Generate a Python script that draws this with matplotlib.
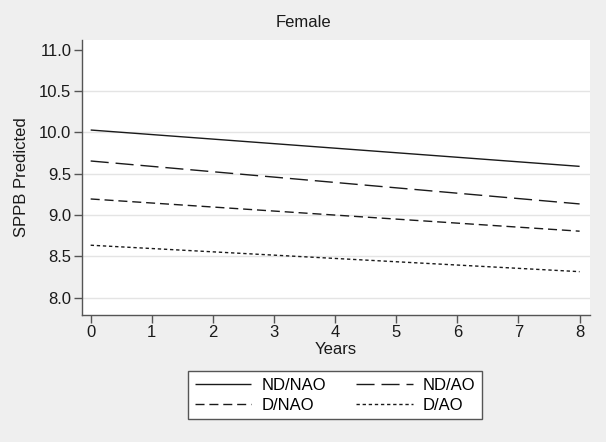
import numpy as np
import matplotlib
matplotlib.use("Agg")
import matplotlib.pyplot as plt

plt.rcParams['font.family'] = ['Liberation Sans', 'DejaVu Sans']

# predicted SPPB at start and end of follow-up
years = [0, 8]
groups = ["ND/NAO", "ND/AO", "D/NAO", "D/AO"]
nd_nao = [10.03, 9.59]
nd_ao = [9.655, 9.135]
d_nao = [9.195, 8.805]
d_ao = [8.635, 8.315]
yticks = [8.0, 8.5, 9.0, 9.5, 10.0, 10.5, 11.0]
xticks = [0, 1, 2, 3, 4, 5, 6, 7, 8]

bg = '#efefef'
ink = '#1a1a1a'
axis_col = '#555555'
fs = 12

fig = plt.figure(figsize=(6.06, 4.42), dpi=100, facecolor=bg)
ax = fig.add_axes([0.1348, 0.2873, 0.8388, 0.6222])
ax.set_facecolor('white')

styles = [(0, ()), (0, (13, 5)), (0, (6.5, 3.5)), (0, (2.4, 2))]
series = [nd_nao, nd_ao, d_nao, d_ao]
handles = []
for name, vals, ls in zip(groups, series, styles):
    h, = ax.plot(years, vals, color=ink, lw=1.0, linestyle=ls, label=name)
    handles.append(h)

# light grid, none at the top tick
for yv in yticks[:-1]:
    ax.axhline(yv, color='#e4e4e4', lw=1.0, zorder=0)

ax.set_xlim(-0.147, 8.17)
ax.set_ylim(7.79, 11.12)
ax.set_xticks(xticks)
ax.set_yticks(yticks)
ax.set_yticklabels([f"{v:.1f}" for v in yticks])
for s in ['top', 'right']:
    ax.spines[s].set_visible(False)
for s in ['left', 'bottom']:
    ax.spines[s].set_color(axis_col)
    ax.spines[s].set_linewidth(1.0)
ax.tick_params(axis='both', colors=axis_col, labelcolor=ink, labelsize=fs,
               length=5.5, width=1.0, direction='out', pad=2)

ax.set_xlabel("Years", fontsize=fs, color=ink, labelpad=1)
ax.set_ylabel("SPPB Predicted", fontsize=fs, color=ink, labelpad=7)
fig.text(0.5, 0.948, "Female", ha='center', va='center', fontsize=fs, color=ink)

# row-wise order like the original: ND/NAO, ND/AO / D/NAO, D/AO
order = [0, 2, 1, 3]
leg = fig.legend([handles[i] for i in order], [groups[i] for i in order],
                 loc='center', bbox_to_anchor=(0.5528, 0.1063), ncol=2,
                 fontsize=fs, handlelength=3.4, handletextpad=0.6,
                 columnspacing=1.8, labelspacing=0.3, borderpad=0.4,
                 fancybox=False, framealpha=1.0, edgecolor=axis_col)
leg.get_frame().set_linewidth(1.0)

fig.savefig("out.png", dpi=100, facecolor=bg)
